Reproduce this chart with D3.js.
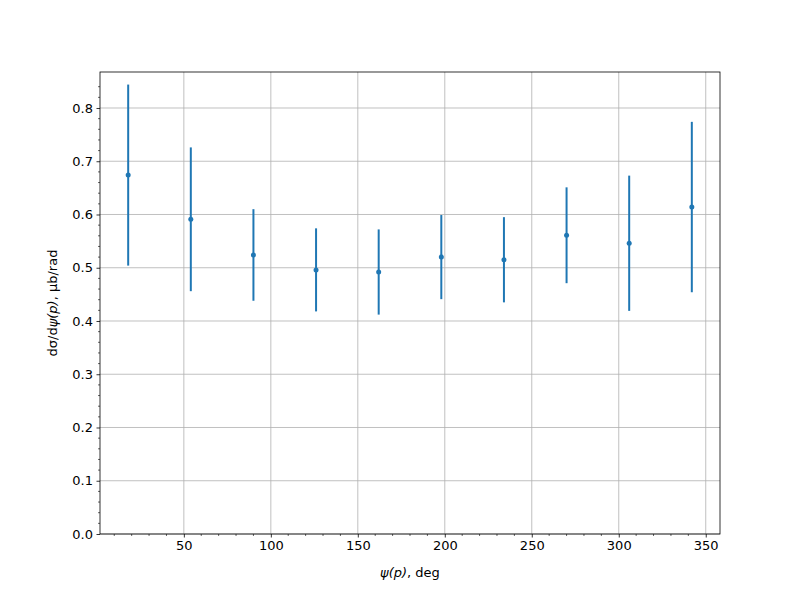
<!DOCTYPE html>
<html>
<head>
<meta charset="utf-8">
<script src="https://cdn.jsdelivr.net/npm/d3@7"></script>
<style>
body { margin: 0; background: #fff; }
svg text { font-family: "DejaVu Sans", sans-serif; }
</style>
</head>
<body>
<svg id="chart" width="800" height="600"></svg>
<script>
const psi = [18, 54, 90, 126, 162, 198, 234, 270, 306, 342];
const xsec = [0.674, 0.591, 0.524, 0.496, 0.492, 0.520, 0.515, 0.561, 0.546, 0.614];
const errs = [0.170, 0.135, 0.086, 0.078, 0.080, 0.079, 0.080, 0.090, 0.127, 0.160];
const xTicks = [50, 100, 150, 200, 250, 300, 350];
const yTicks = [0, 0.1, 0.2, 0.3, 0.4, 0.5, 0.6, 0.7, 0.8];

const svg = d3.select("#chart");
const L = 100, R = 720, T = 72, B = 534;
const x = d3.scaleLinear().domain([1.8, 358.2]).range([L, R]);
const y = d3.scaleLinear().domain([0, 0.8676]).range([B, T]);

// grid
const grid = svg.append("g");
grid.selectAll("line.gx").data(xTicks).enter().append("line")
  .attr("x1", d => x(d)).attr("x2", d => x(d)).attr("y1", T).attr("y2", B)
  .attr("stroke", "#b0b0b0").attr("stroke-width", 0.8);
grid.selectAll("line.gy").data(yTicks).enter().append("line")
  .attr("y1", d => y(d)).attr("y2", d => y(d)).attr("x1", L).attr("x2", R)
  .attr("stroke", "#b0b0b0").attr("stroke-width", 0.8);

// error bars
const c = "#1f77b4";
svg.append("g").selectAll("line").data(psi).enter().append("line")
  .attr("x1", d => x(d)).attr("x2", d => x(d))
  .attr("y1", (d, i) => y(xsec[i] - errs[i])).attr("y2", (d, i) => y(xsec[i] + errs[i]))
  .attr("stroke", c).attr("stroke-width", 2);
svg.append("g").selectAll("circle").data(psi).enter().append("circle")
  .attr("cx", d => x(d)).attr("cy", (d, i) => y(xsec[i])).attr("r", 2.5).attr("fill", c);

// axes
const xAxis = d3.axisBottom(x).tickValues(xTicks).tickSize(3.5).tickPadding(3.5).tickFormat(d3.format("d"));
const yAxis = d3.axisLeft(y).tickValues(yTicks).tickSize(3.5).tickPadding(3.5).tickFormat(d3.format(".1f"));
const xMinor = d3.range(10, 360, 10).filter(v => v % 50 !== 0);
const yMinor = d3.range(0, 0.86, 0.02).filter(v => Math.abs(v * 10 - Math.round(v * 10)) > 1e-6);

const gx = svg.append("g").attr("transform", `translate(0,${B})`).call(xAxis);
gx.append("g").selectAll("line").data(xMinor).enter().append("line")
  .attr("x1", d => x(d)).attr("x2", d => x(d)).attr("y1", 0).attr("y2", 2).attr("stroke", "#000").attr("stroke-width", 0.6);
const gy = svg.append("g").attr("transform", `translate(${L},0)`).call(yAxis);
gy.append("g").selectAll("line").data(yMinor).enter().append("line")
  .attr("y1", d => y(d)).attr("y2", d => y(d)).attr("x1", 0).attr("x2", -2).attr("stroke", "#000").attr("stroke-width", 0.6);
[gx, gy].forEach(g => {
  g.select(".domain").remove();
  g.selectAll(".tick line").attr("stroke", "#000").attr("stroke-width", 0.8);
  g.selectAll(".tick text").attr("fill", "#000").style("font-size", "13px").style("font-family", "DejaVu Sans");
});

svg.append("rect").attr("x", L).attr("y", T).attr("width", R - L).attr("height", B - T)
  .attr("fill", "none").attr("stroke", "#000").attr("stroke-width", 0.8);

// labels
const xl = svg.append("text").attr("x", (L + R) / 2).attr("y", 577).attr("text-anchor", "middle")
  .style("font-size", "13px");
xl.append("tspan").attr("font-style", "italic").text("ψ(p)");
xl.append("tspan").text(", deg");

const yl = svg.append("text").attr("transform", `translate(57,${(T + B) / 2}) rotate(-90)`).attr("text-anchor", "middle")
  .style("font-size", "13px");
yl.append("tspan").text("dσ/d");
yl.append("tspan").attr("font-style", "italic").text("ψ(p)");
yl.append("tspan").text(", μb/rad");
</script>
</body>
</html>
